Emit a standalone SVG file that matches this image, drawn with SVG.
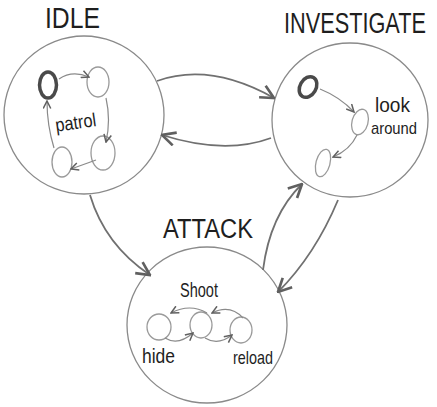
<svg xmlns="http://www.w3.org/2000/svg" width="437" height="407" viewBox="0 0 437 407">
<defs>
<style>
.state{fill:none;stroke:#8a8a8a;stroke-width:1.3}
.node{fill:none;stroke:#9a9a9a;stroke-width:1.3}
.init{fill:none;stroke:#4a4a4a;stroke-width:3.5}
.conn{fill:none;stroke:#707070;stroke-width:1.8}
.inner{fill:none;stroke:#8a8a8a;stroke-width:1.2}
.title{font-family:"Liberation Sans",sans-serif;fill:#1e1e1e;font-weight:normal}
.lbl{font-family:"Liberation Sans",sans-serif;fill:#1e1e1e}
</style>
<marker id="arr" markerUnits="userSpaceOnUse" markerWidth="16" markerHeight="16" viewBox="0 0 12 12" refX="11" refY="6" orient="auto">
<path d="M1,1 L11,6 L1,11" fill="none" stroke="#606060" stroke-width="2"/>
</marker>
<marker id="arrs" markerUnits="userSpaceOnUse" markerWidth="9" markerHeight="9" viewBox="0 0 12 12" refX="11" refY="6" orient="auto">
<path d="M1,1 L11,6 L1,11" fill="none" stroke="#606060" stroke-width="2"/>
</marker>
</defs>
<rect width="437" height="407" fill="#ffffff"/>

<g id="idle">
<ellipse class="state" cx="84" cy="115" rx="80" ry="79"/>
<text class="title" x="45" y="28" font-size="30" textLength="55" lengthAdjust="spacingAndGlyphs">IDLE</text>
<ellipse class="init" cx="48" cy="85" rx="8.5" ry="13"/>
<ellipse class="node" cx="98" cy="82" rx="11" ry="15"/>
<ellipse class="node" cx="103" cy="153" rx="12" ry="17"/>
<ellipse class="node" cx="62" cy="162" rx="10" ry="15"/>
<path class="inner" d="M59,79 Q72,70 89,77" marker-end="url(#arrs)"/>
<path class="inner" d="M106,98 Q111,120 106,142" marker-end="url(#arrs)"/>
<path class="inner" d="M96,160 L71,169" marker-end="url(#arrs)"/>
<path class="inner" d="M54,148 Q47,125 47,101" marker-end="url(#arrs)"/>
<text class="lbl" x="55" y="129" font-size="19" textLength="41" lengthAdjust="spacingAndGlyphs" transform="rotate(-8 75 122)">patrol</text>
</g>

<g id="investigate">
<ellipse class="state" cx="350" cy="120" rx="78" ry="77"/>
<text class="title" x="0" y="0" font-size="22" textLength="142" lengthAdjust="spacingAndGlyphs" transform="translate(284,33) scale(1,1.36)">INVESTIGATE</text>
<ellipse class="init" cx="308" cy="87" rx="8" ry="11" transform="rotate(30 308 87)"/>
<ellipse class="node" cx="360" cy="122" rx="8" ry="13" transform="rotate(15 360 122)"/>
<ellipse class="node" cx="323" cy="163" rx="7" ry="14" transform="rotate(15 323 163)"/>
<path class="inner" d="M320,89 Q340,97 354,112" marker-end="url(#arrs)"/>
<path class="inner" d="M357,135 Q350,150 333,157" marker-end="url(#arrs)"/>
<text class="lbl" x="375" y="112" font-size="21" textLength="35" lengthAdjust="spacingAndGlyphs">look</text>
<text class="lbl" x="371" y="134" font-size="17" textLength="46" lengthAdjust="spacingAndGlyphs">around</text>
</g>

<g id="attack">
<ellipse class="state" cx="207" cy="325" rx="80" ry="78"/>
<text class="title" x="163" y="238" font-size="27" textLength="90" lengthAdjust="spacingAndGlyphs">ATTACK</text>
<text class="lbl" x="180" y="297" font-size="20" textLength="38" lengthAdjust="spacingAndGlyphs">Shoot</text>
<ellipse class="node" cx="159" cy="327" rx="12" ry="13"/>
<ellipse class="node" cx="201" cy="325" rx="11" ry="13"/>
<ellipse class="node" cx="241" cy="330" rx="11" ry="13"/>
<path class="inner" d="M207,313 Q190,303 171,313" marker-end="url(#arrs)"/>
<path class="inner" d="M165,338 Q178,346 193,333" marker-end="url(#arrs)"/>
<path class="inner" d="M243,318 Q230,304 212,313" marker-end="url(#arrs)"/>
<path class="inner" d="M205,338 Q218,346 232,335" marker-end="url(#arrs)"/>
<text class="lbl" x="142" y="363" font-size="20" textLength="33" lengthAdjust="spacingAndGlyphs">hide</text>
<text class="lbl" x="233" y="364" font-size="19" textLength="40" lengthAdjust="spacingAndGlyphs">reload</text>
</g>

<g id="connectors">
<path class="conn" d="M157,81 Q210,62 274,98" marker-end="url(#arr)"/>
<path class="conn" d="M271,138 Q225,155 162,135" marker-end="url(#arr)"/>
<path class="conn" d="M90,195 Q105,245 150,275" marker-end="url(#arr)"/>
<path class="conn" d="M263,270 Q270,215 302,184" marker-end="url(#arr)"/>
<path class="conn" d="M338,200 Q315,255 278,292" marker-end="url(#arr)"/>
</g>
</svg>
